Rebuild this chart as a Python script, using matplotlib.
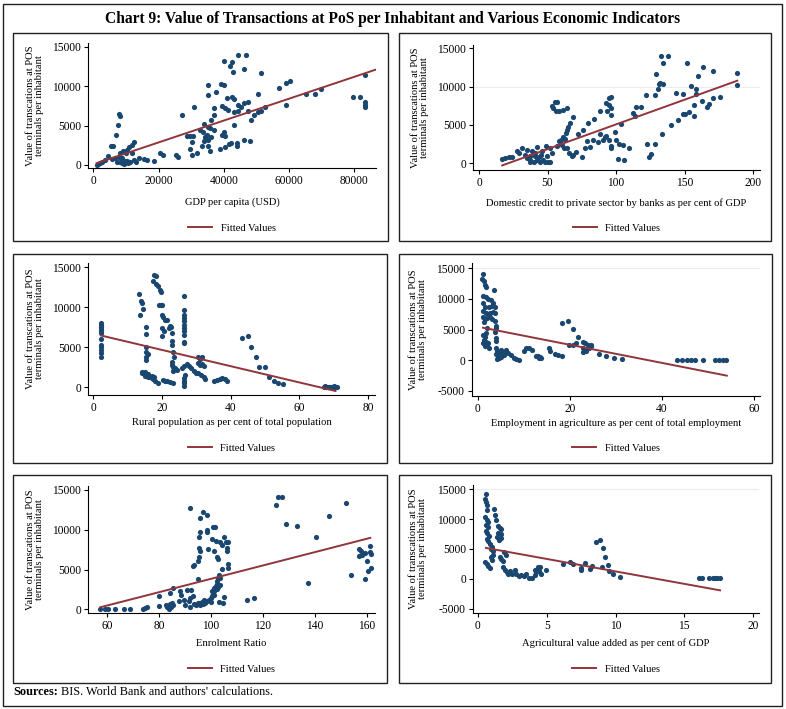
import numpy as np
import matplotlib
matplotlib.use("Agg")
import matplotlib.pyplot as plt
from matplotlib.patches import Rectangle

plt.rcParams['font.family'] = ['Liberation Serif', 'DejaVu Serif']
plt.rcParams['axes.unicode_minus'] = False

# ---- data (x, y) ----
gdp_points = [
    (44200, 14000), (46750, 14000), (40000, 13175), (42600, 13050), (41900, 12600), (46200, 12200),
    (42900, 11860), (51300, 11650), (83100, 11430), (35300, 10200), (39000, 10330), (40000, 10100),
    (60150, 10630), (58900, 10370), (56900, 9730), (69800, 9650), (65300, 9050), (67800, 9050),
    (79500, 8630), (81800, 8585), (83200, 8000), (83200, 7650), (83200, 7300), (58900, 7650),
    (50400, 9000), (37700, 9220), (35000, 8840), (41000, 8460), (42600, 8630), (43100, 8370),
    (47300, 8000), (46200, 7860), (44400, 7650), (39500, 7520), (40500, 7180), (41300, 7010),
    (43100, 6760), (44200, 6885), (45200, 7350), (47300, 6885), (50400, 6760), (51400, 6885),
    (52500, 7350), (49100, 6375), (48300, 5650), (36900, 7225), (30900, 7350), (27300, 6330),
    (36100, 5740), (37100, 6290), (34000, 5230), (35000, 4800), (32700, 4460), (33600, 4200),
    (35800, 4675), (36900, 4380), (40000, 4165), (43100, 5060), (40300, 3610), (39500, 3780),
    (34800, 3825), (34300, 3530), (35000, 3190), (36100, 3530), (33800, 2975), (33200, 2340),
    (35300, 2340), (35800, 1785), (28600, 3700), (29600, 3700), (30700, 3700), (30100, 2850),
    (29600, 1955), (30100, 1275), (31700, 1490), (25500, 1275), (26000, 1060), (20500, 1490),
    (21300, 1275), (18700, 550), (38800, 2000), (40300, 2210), (41600, 2635), (42300, 2720),
    (43900, 2420), (43900, 2760), (46200, 3190), (48000, 3060),
    (7800, 6500), (8100, 6160), (7600, 5060), (7000, 3780), (5500, 2420), (6200, 2420),
    (4500, 1150), (12500, 2850), (11800, 2550), (10900, 2250), (10400, 1910), (9900, 1570),
    (9000, 1700), (8300, 1490), (7800, 1060), (8800, 850), (9700, 550), (10700, 210),
    (8800, 210), (9900, 300), (11400, 425), (12500, 640), (14000, 850), (15600, 765),
    (16600, 640), (13000, 425), (6750, 850), (5700, 720), (3600, 640), (2600, 425),
    (1560, 130), (1040, 0), (2080, 210), (7300, 425), (8300, 300), (9350, 130),
    (10400, 550), (11800, 1490),
]
gdp_fit_x = [1040, 86500]
gdp_fit_y = [212, 12110]

credit_points = [
    (132.8, 14000), (137.7, 14000), (134, 13130), (152, 13040), (163.5, 12600), (171, 12090),
    (188, 11830), (188, 10170), (160, 11390), (129, 11650), (130.4, 9650), (132.3, 10520),
    (131.6, 10350), (134.5, 10350), (122, 8910), (128.7, 8910), (143.7, 9130), (149, 9000),
    (154.6, 10090), (158.2, 9650), (158.6, 9000), (163, 8170), (166.6, 7390), (168, 7700),
    (171, 8560), (175.6, 8610), (157, 7610), (153.4, 6740), (150.5, 6435), (157, 6170),
    (148.6, 6435), (145, 5650), (140, 5000), (133.6, 3830), (122.7, 2480), (128.7, 2480),
    (125.6, 1220), (124, 780), (114.7, 7390), (118.4, 7390), (112.3, 6520), (114, 6170),
    (103.4, 5090), (99.5, 4130), (95, 8480), (96.6, 8610), (95, 7610), (93, 7830),
    (96.6, 7260), (96.6, 6300), (93.7, 6870), (88.6, 6830), (83.8, 5740), (79.7, 5220),
    (76, 4350), (72.4, 3780), (68.8, 6090), (66.4, 5220), (65.2, 4700), (64, 4350),
    (63.5, 3910), (62.8, 3130), (61, 3480), (57.2, 8040), (55.6, 7960), (53.6, 7520),
    (54.3, 7170), (56.3, 6780), (58.7, 6780), (61.6, 6960), (64, 7170), (58, 2830),
    (59.7, 3040), (56.7, 2260), (60.4, 2350), (62, 1960), (64.5, 1960), (66, 1300),
    (68.8, 1090), (70.8, 1390), (67.6, 870), (74.8, 780), (77.3, 1960), (79, 2830),
    (81, 2090), (83.4, 2960), (86.7, 2700), (90.6, 3040), (91.8, 3480), (88.6, 3830),
    (93, 3570), (95, 3040), (96.6, 2300), (96.6, 2040), (100.2, 3040), (102.2, 2480),
    (105, 2390), (109.4, 1960), (101.4, 565), (105.6, 350), (52, 1960), (53.2, 1300),
    (49.5, 870), (47, 435), (50, 90), (52, 90), (48.3, 90), (44.7, 90),
    (42.3, 350), (39.9, 175), (37.4, 435), (37, 90), (43.5, 780), (45.1, 1090),
    (45.9, 1520), (49, 2260), (42.3, 2090), (38.6, 1520), (35, 1740), (31.4, 1960),
    (27.8, 1520), (33.8, 1090), (37.4, 960), (41, 870), (24.2, 780), (21.7, 780),
    (19.3, 650), (16.9, 520), (29, 1300), (35, 650), (41, 1300),
]
credit_fit_x = [16.9, 188.4]
credit_fit_y = [-300, 10780]

rural_points = [
    (2.2, 8080), (2.2, 7790), (2.3, 7580), (2.2, 7290), (2.3, 7080), (2.2, 6830),
    (2.3, 6080), (2.2, 5290), (2.3, 5000), (2.2, 4670), (2.3, 4330), (2.3, 3830),
    (13.3, 11670), (13.6, 9000), (14.1, 10500), (13.9, 10710), (14.6, 9750),
    (15.4, 7460), (15.4, 6670), (15.4, 5000), (15.4, 4460), (15.4, 3830), (15.4, 3420), (15.8, 4170),
    (17.7, 14040), (18.2, 13900), (17.3, 13210), (18.3, 12920), (18.8, 12670), (19.4, 12080), (19.7, 11830),
    (19.7, 10290), (20.1, 10290), (19.2, 10210),
    (20.1, 9040), (20.4, 8750), (20.9, 8420), (21.4, 8330), (22.2, 7670), (22.6, 7580),
    (21.9, 7380), (20.1, 7380), (20.6, 7080), (20.1, 6420), (23.0, 6830), (22.8, 5790),
    (23.0, 5290), (23.3, 4420), (23.6, 3750), (23.0, 3210), (23.0, 2790), (23.3, 2580),
    (23.8, 2380), (24.3, 2170), (23.3, 2080),
    (26.5, 11420), (26.5, 9670), (26.5, 9040), (26.5, 8630), (26.5, 8210), (26.5, 7790),
    (26.5, 7380), (26.5, 6960), (26.5, 6540), (26.5, 5710), (26.5, 5500),
    (26.3, 1130), (26.3, 830), (26.3, 500), (26.3, 170), (26.7, 1540),
    (30.6, 3830), (31.1, 3580), (31.6, 3750), (30.6, 3000), (31.1, 2790), (31.6, 2920), (32.1, 2670),
    (25.8, 2460), (26.5, 2670), (27.2, 2880), (27.9, 2670), (28.5, 2380), (29.2, 2080),
    (29.8, 1830), (30.6, 1750), (31.4, 1540), (32.1, 1250), (32.6, 1000),
    (35.0, 830), (36.0, 920), (36.9, 1000), (37.6, 1170), (38.2, 1000), (38.9, 830),
    (14.1, 1750), (14.9, 1960), (15.4, 1540), (16.0, 1670), (16.5, 1330), (17.0, 1130),
    (17.5, 1000), (18.0, 830), (18.8, 500), (16.0, 1250), (15.1, 1420), (14.3, 1920),
    (17.0, 1460), (17.8, 1330),
    (20.4, 920), (21.4, 830), (22.4, 670), (23.3, 500), (20.9, 750),
    (43.3, 6130), (44.9, 6420), (46.0, 5080), (47.3, 3830), (48.3, 2500), (50.1, 2500),
    (51.0, 1250), (52.5, 830), (53.9, 500), (55.1, 375),
    (67.1, 83), (67.7, 83), (68.3, 83), (69.0, 83), (69.7, 83), (70.3, 83), (71.0, 83),
    (67.5, 170), (68.8, 0), (70.0, 170),
]
rural_fit_x = [2.24, 70.5]
rural_fit_y = [6460, -460]

emp_points = [
    (1.16, 14060), (1.01, 13190), (1.3, 12810), (1.52, 12260), (1.74, 11880), (3.48, 11450),
    (1.16, 10460), (1.74, 10250), (2.25, 9920), (2.97, 9810), (3.33, 9370), (1.16, 9270),
    (1.52, 8720), (2.46, 8610), (3.19, 8830), (3.7, 8720), (1.16, 8070), (1.74, 7740),
    (2.25, 7520), (2.75, 7740), (3.33, 7900), (3.7, 7630), (1.16, 7090), (1.52, 6650),
    (2.03, 6810), (2.61, 7090), (3.19, 6650), (3.7, 6430), (1.3, 6270), (3.91, 5560),
    (3.91, 5180), (3.7, 4630), (4.06, 3540), (4.06, 3160), (1.16, 4090), (1.52, 3710),
    (1.3, 3270), (1.74, 3000), (1.16, 2730), (2.03, 2450), (2.46, 2070), (1.52, 2290),
    (2.25, 2830), (1.74, 4470), (2.03, 5180), (4.06, 1910), (4.2, 1530), (3.91, 980),
    (4.42, 650), (4.93, 980), (5.5, 1360), (6.1, 1640), (6.6, 1200), (7.3, 820),
    (7.8, 440), (8.4, 220), (9.0, 110), (4.78, 1200), (5.14, 1640), (5.72, 820),
    (4.64, 440), (4.2, 270), (5.14, 545),
    (10.0, 1530), (10.45, 1910), (11.2, 1910), (11.7, 1740), (12.75, 650), (13.3, 440),
    (13.8, 440), (13.1, 760), (13.6, 545),
    (15.5, 1910), (15.8, 1530), (16.7, 980), (17.5, 870), (18.4, 710),
    (18.4, 6100), (19.6, 6430), (20.7, 5010), (21.8, 3810), (19.8, 2450), (20.6, 2450),
    (21.3, 2730), (22.9, 3000), (23.3, 2730), (24.0, 2450), (24.5, 2290), (22.9, 2070),
    (23.5, 1740), (22.9, 1360), (23.6, 1530), (24.2, 1910), (24.7, 2450),
    (26.4, 1090), (27.8, 650), (29.6, 380), (31.3, 220),
    (43.3, 0), (44.4, 0), (45.4, 0), (46.4, 0), (47.2, 0), (49.0, 0),
    (51.5, 0), (52.5, 0), (53.3, 0), (54.0, 0),
]
emp_fit_x = [1.16, 54.1]
emp_fit_y = [5290, -2510]

enrol_points = [
    (57.2, 40), (59.4, 40), (60.3, 40), (63.2, 40), (66.4, 40), (69.0, 40),
    (73.9, 40), (74.8, 170), (75.4, 250), (80.0, 380), (80.0, 1650), (83.0, 250),
    (82.9, 510), (84.2, 680), (84.7, 250), (85.5, 510), (83.8, 85), (85.0, 800),
    (84.2, 2080), (85.5, 2630), (88.3, 2290), (88.6, 1780), (87.6, 1020), (89.6, 1230),
    (90.2, 510), (91.5, 1020), (91.9, 250), (90.9, 2460), (92.4, 2460), (91.9, 1440),
    (93.2, 1650), (93.7, 680), (94.4, 510), (95.0, 3770), (95.4, 800), (96.0, 590),
    (97.0, 680), (97.9, 800), (98.6, 1020), (99.2, 1230), (99.9, 1440), (100.5, 1650),
    (100.9, 1950), (101.2, 2290), (101.4, 2630), (101.8, 2920), (102.2, 3220), (102.4, 3560),
    (102.7, 3900), (103.1, 4320), (102.2, 2500), (102.7, 2800), (103.4, 3050), (101.4, 1780),
    (100.5, 2290), (97.3, 1230), (96.6, 930), (99.9, 930), (103.1, 930), (104.8, 800),
    (105.0, 1530), (95.1, 800), (104.1, 5040), (103.7, 3980),
    (91.9, 12750), (97.0, 12200), (98.6, 11900), (95.7, 11480), (100.9, 10340), (101.5, 10340),
    (98.6, 10000), (98.6, 9700), (95.7, 9700), (95.3, 9070), (100.5, 8810), (101.8, 8640),
    (103.4, 8520), (105.0, 9150), (105.8, 8520), (106.7, 8520), (104.4, 8130), (95.3, 7670),
    (96.0, 7370), (98.8, 7580), (101.2, 7370), (106.3, 7710), (106.3, 7370), (102.4, 6610),
    (102.9, 6310), (95.3, 6520), (95.0, 6100), (93.3, 5470), (93.7, 5590), (106.7, 5680),
    (106.7, 5250),
    (113.8, 1230), (116.6, 1440), (125.1, 13090), (125.8, 14070), (127.5, 14070), (128.9, 10760),
    (133.3, 10420), (145.3, 11740), (152.2, 13300), (140.4, 9070), (137.5, 3350), (153.9, 4320),
    (159.2, 3770), (160.5, 4830), (161.8, 5170), (160.2, 6100), (157.0, 7580), (158.0, 7290),
    (159.2, 7030), (158.2, 6860), (157.2, 6740), (161.4, 8000), (161.4, 7160), (161.8, 6950),
]
enrol_fit_x = [57.4, 161.4]
enrol_fit_y = [250, 8980]

agri_points = [
    (0.58, 14170), (0.51, 13330), (0.58, 12950), (0.63, 12390), (0.68, 11500), (1.16, 11670),
    (1.23, 10720), (1.3, 9830), (0.51, 10280), (0.63, 9830), (0.75, 9440), (0.58, 9060),
    (0.75, 8610), (1.59, 8500), (1.47, 8890), (1.71, 8330), (0.58, 8060), (0.68, 7610),
    (0.82, 7220), (1.47, 7610), (1.64, 7500), (1.35, 6940), (1.55, 6500), (1.71, 6830),
    (0.63, 6670), (0.75, 6280), (0.87, 5830), (0.99, 5390), (0.92, 5000), (1.06, 4610),
    (1.11, 4060), (0.92, 3720), (1.59, 3720), (1.71, 3330), (1.84, 2940), (2.03, 4060),
    (1.88, 4440), (0.51, 2780), (0.63, 2500), (0.75, 2060), (0.87, 1830), (0.99, 3170),
    (1.84, 1940), (1.96, 1500), (2.08, 1110), (2.2, 830), (2.44, 720), (2.32, 1280),
    (2.68, 1390), (2.8, 720), (2.99, 390), (3.16, 560), (3.33, 390), (3.48, 830),
    (3.72, 170), (3.96, 110), (4.13, 560), (4.2, 1110), (4.37, 1670), (4.54, 1940),
    (4.44, 1280), (4.61, 830), (4.37, 1940), (4.93, 1500), (4.13, 1500),
    (6.18, 2500), (6.67, 2780), (6.9, 2500), (7.5, 1830), (7.5, 1500), (7.8, 2610),
    (8.16, 1670), (8.3, 2220), (8.55, 6220), (8.89, 6500), (9.08, 5110), (9.27, 3720),
    (9.44, 2390), (9.03, 1940), (9.56, 1280), (9.8, 830), (10.3, 280),
    (16.1, 56), (16.3, 56), (16.8, 56), (17.05, 56), (17.2, 56), (17.4, 56), (17.6, 56),
]
agri_fit_x = [0.58, 17.6]
agri_fit_y = [5170, -1940]

# ---- figure ----
W, H = 786, 709
fig = plt.figure(figsize=(W / 100, H / 100), dpi=100)

NAVY = '#1a476f'
MAROON = '#90353b'
YLABEL = 'Value of transcations at POS\nterminals per inhabitant'


def fig_rect(l, t, r, b):
    return [l / W, 1 - b / H, (r - l) / W, (b - t) / H]


def panel(points, fit_x, fit_y, xlabel, xticks, yticks, xlim, ylim,
          box, axbox, xlab_y, ylab_x, leg_y, grid=None):
    # outer frame of the panel
    l, t, r, b = box
    fig.add_artist(Rectangle((l / W, 1 - b / H), (r - l) / W, (b - t) / H,
                             transform=fig.transFigure, fill=False,
                             edgecolor='#222222', linewidth=1.0))
    ax = fig.add_axes(fig_rect(*axbox))
    pts = np.array(points)
    if grid is not None:
        ax.axhline(grid, color='#ececec', linewidth=0.8, zorder=0)
    ax.scatter(pts[:, 0], pts[:, 1], s=14, color=NAVY, linewidths=0, zorder=3)
    ax.plot(fit_x, fit_y, color=MAROON, linewidth=1.4, zorder=4, label='Fitted Values')
    ax.set_xlim(*xlim)
    ax.set_ylim(*ylim)
    ax.set_xticks(xticks)
    ax.set_yticks(yticks)
    for s in ['top', 'right']:
        ax.spines[s].set_visible(False)
    for s in ['left', 'bottom']:
        ax.spines[s].set_linewidth(0.8)
    ax.tick_params(direction='out', length=3, width=0.8, labelsize=8.3, pad=2)
    al, at, ar, ab = axbox
    ax.set_xlabel(xlabel, fontsize=7.6, va='center')
    ax.xaxis.set_label_coords(0.5, -(xlab_y - ab) / (ab - at))
    ax.set_ylabel(YLABEL, fontsize=7.6, va='center', linespacing=0.95)
    ax.yaxis.set_label_coords((ylab_x - al) / (ar - al), 0.5)
    ax.legend(loc='center', bbox_to_anchor=((al + ar) / 2 / W, 1 - leg_y / H),
              bbox_transform=fig.transFigure, frameon=False, fontsize=7.6,
              handlelength=2.3, handletextpad=0.8)
    return ax


y_main = [0, 5000, 10000, 15000]
y_neg = [-5000, 0, 5000, 10000, 15000]

panel(gdp_points, gdp_fit_x, gdp_fit_y, 'GDP per capita (USD)',
      [0, 20000, 40000, 60000, 80000], y_main, (-1600, 86600), (-400, 15500),
      (13, 33, 388, 241), (88, 43, 376, 168), 202, 35, 228)
panel(credit_points, credit_fit_x, credit_fit_y,
      'Domestic credit to private sector by banks as per cent of GDP',
      [0, 50, 100, 150, 200], y_main, (-4.4, 205), (-900, 15450),
      (399, 33, 771, 241), (473, 45, 760, 170), 203, 420, 228, grid=10000)
panel(rural_points, rural_fit_x, rural_fit_y, 'Rural population as per cent of total population',
      [0, 20, 40, 60, 80], y_main, (-1.55, 82), (-960, 15500),
      (13, 254, 387, 463), (88, 263, 375, 395), 422, 35, 448)
panel(emp_points, emp_fit_x, emp_fit_y, 'Employment in agriculture as per cent of total employment',
      [0, 20, 40, 60], y_neg, (-1.24, 61.3), (-5820, 15820),
      (399, 254, 772, 463), (472, 263, 760, 396), 423, 418, 448, grid=15000)
panel(enrol_points, enrol_fit_x, enrol_fit_y, 'Enrolment Ratio',
      [60, 80, 100, 120, 140, 160], y_main, (52.7, 163.2), (-466, 15500),
      (13, 475, 387, 683), (88, 486, 375, 613), 643, 35, 669)
panel(agri_points, agri_fit_x, agri_fit_y, 'Agricultural value added as per cent of GDP',
      [0, 5, 10, 15, 20], y_neg, (-0.36, 20.43), (-5740, 15720),
      (399, 475, 771, 683), (473, 485, 759, 613), 643, 418, 669, grid=15000)

# outer border, title, source
fig.add_artist(Rectangle((3 / W, 1 - 706 / H), 779 / W, 702 / H, transform=fig.transFigure,
                         fill=False, edgecolor='#222222', linewidth=1.0))
fig.text(0.5, 1 - 19 / H, 'Chart 9: Value of Transactions at PoS per Inhabitant and Various Economic Indicators',
         ha='center', va='center', fontsize=11.2, fontweight='bold')
src = fig.text(13 / W, 1 - 692 / H, 'Sources:', ha='left', va='center', fontsize=8.8, fontweight='bold')
renderer = fig.canvas.get_renderer()
bb = src.get_window_extent(renderer)
fig.text((bb.x1 + 3) / W, 1 - 692 / H, "BIS. World Bank and authors' calculations.",
         ha='left', va='center', fontsize=8.8)

fig.savefig('out.png', dpi=100)
